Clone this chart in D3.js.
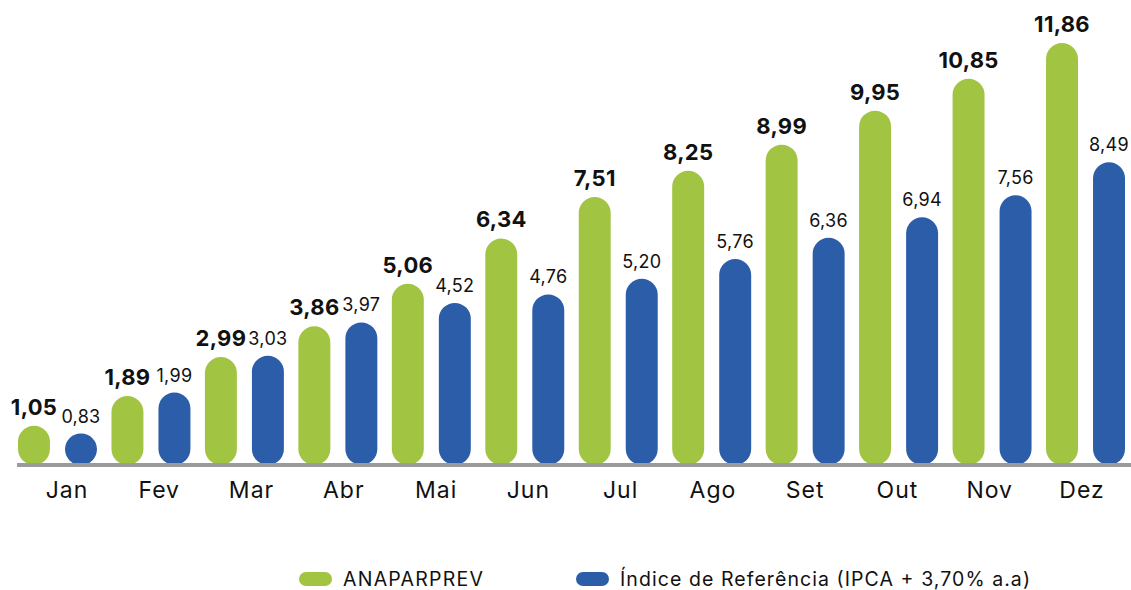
<!DOCTYPE html>
<html>
<head>
<meta charset="utf-8">
<script src="https://cdn.jsdelivr.net/npm/d3@7"></script>
<style>
  html, body { margin: 0; padding: 0; background: #fff; }
  svg { display: block; font-family: "Inter", "Noto Sans", sans-serif; }
</style>
</head>
<body>
<svg id="chart" width="1131" height="590"></svg>
<script>
const months = ["Jan", "Fev", "Mar", "Abr", "Mai", "Jun", "Jul", "Ago", "Set", "Out", "Nov", "Dez"];
const anaparprev = [1.05, 1.89, 2.99, 3.86, 5.06, 6.34, 7.51, 8.25, 8.99, 9.95, 10.85, 11.86];
const indice = [0.83, 1.99, 3.03, 3.97, 4.52, 4.76, 5.20, 5.76, 6.36, 6.94, 7.56, 8.49];
const seriesNames = ["ANAPARPREV", "Índice de Referência (IPCA + 3,70% a.a)"];
const colors = ["#a2c443", "#2c5da8"];

const fmt = v => v.toFixed(2).replace(".", ",");

const svg = d3.select("#chart");
const baseY = 463;

const x0 = d3.scaleBand().domain(months).range([18, 1125]).paddingInner(0.155).paddingOuter(0);
const x1 = d3.scaleBand().domain([0, 1]).range([0, x0.bandwidth()]).paddingInner(0.32).paddingOuter(0);
const y = d3.scaleLinear().domain([0, 11.86]).range([baseY, 43]);
const xLabel = d3.scalePoint().domain(months).range([67, 1082]);

const data = months.map((m, i) => ({ m, vals: [anaparprev[i], indice[i]] }));

const groups = svg.append("g").selectAll("g").data(data).join("g")
  .attr("transform", d => `translate(${x0(d.m)},0)`);

groups.selectAll("rect").data(d => d.vals.map((v, k) => ({ v, k }))).join("rect")
  .attr("x", d => x1(d.k))
  .attr("y", d => y(d.v))
  .attr("width", x1.bandwidth())
  .attr("height", d => baseY + 2 - y(d.v))
  .attr("rx", d => Math.min(x1.bandwidth() / 2, (baseY + 2 - y(d.v)) / 2))
  .attr("fill", d => colors[d.k]);

groups.selectAll("text").data(d => d.vals.map((v, k) => ({ v, k }))).join("text")
  .attr("x", d => x1(d.k) + x1.bandwidth() / 2)
  .attr("y", d => y(d.v) - 11)
  .attr("text-anchor", "middle")
  .attr("font-size", d => d.k === 0 ? 22 : 18)
  .attr("font-weight", d => d.k === 0 ? 700 : 400)
  .attr("letter-spacing", d => d.k === 0 ? 0.3 : 0.3)
  .attr("fill", "#111")
  .text(d => fmt(d.v));

// baseline
svg.append("line")
  .attr("x1", 17).attr("x2", 1131)
  .attr("y1", baseY + 2).attr("y2", baseY + 2)
  .attr("stroke", "#9b9b9b").attr("stroke-width", 4);

// month labels
svg.append("g").selectAll("text").data(months).join("text")
  .attr("x", d => xLabel(d))
  .attr("y", 498)
  .attr("text-anchor", "middle")
  .attr("font-size", 23)
  .attr("letter-spacing", 1)
  .attr("fill", "#111")
  .text(d => d);

// legend
const legendX = [299, 576];
const legendW = [140, 410];
const lg = svg.append("g").selectAll("g").data(seriesNames).join("g")
  .attr("transform", (d, i) => `translate(${legendX[i]},579)`);
lg.append("rect").attr("x", 0).attr("y", -7).attr("width", 33).attr("height", 14).attr("rx", 7)
  .attr("fill", (d, i) => colors[i]);
lg.append("text").attr("x", 44).attr("y", 7)
  .attr("font-size", 19.5).attr("fill", "#111")
  .attr("textLength", (d, i) => legendW[i]).attr("lengthAdjust", "spacing")
  .text(d => d);
</script>
</body>
</html>
